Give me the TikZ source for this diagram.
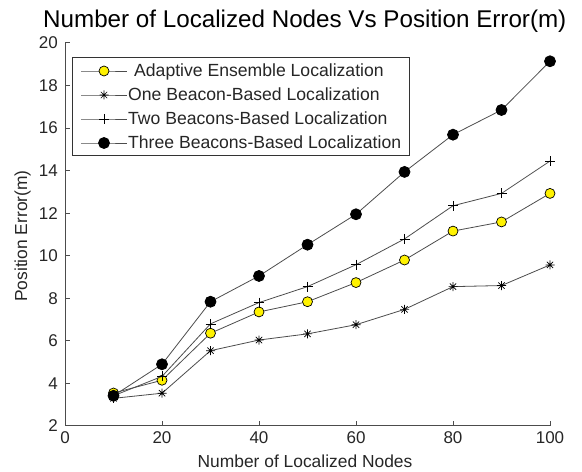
\documentclass[tikz,border=0pt]{standalone}
\usepackage{fontspec}
\setmainfont{Liberation Sans}
\usetikzlibrary{plotmarks}

% eight-armed star, like the asterisk marker of the original plot
\pgfdeclareplotmark{star8}{%
  \pgfpathmoveto{\pgfqpoint{-\pgfplotmarksize}{0pt}}\pgfpathlineto{\pgfqpoint{\pgfplotmarksize}{0pt}}%
  \pgfpathmoveto{\pgfqpoint{0pt}{-\pgfplotmarksize}}\pgfpathlineto{\pgfqpoint{0pt}{\pgfplotmarksize}}%
  \pgfpathmoveto{\pgfqpoint{-0.7\pgfplotmarksize}{-0.7\pgfplotmarksize}}\pgfpathlineto{\pgfqpoint{0.7\pgfplotmarksize}{0.7\pgfplotmarksize}}%
  \pgfpathmoveto{\pgfqpoint{-0.7\pgfplotmarksize}{0.7\pgfplotmarksize}}\pgfpathlineto{\pgfqpoint{0.7\pgfplotmarksize}{-0.7\pgfplotmarksize}}%
  \pgfusepathqstroke}

\begin{document}
\begin{tikzpicture}[x=1pt, y=1pt,
  axisline/.style={line width=1pt, draw=black!70},
  dataline/.style={line width=0.8pt, draw=black!70},
  ticklabel/.style={font=\fontsize{17}{17}\selectfont, inner sep=0pt, text=black!85},
  labeltext/.style={font=\fontsize{17.4}{17.4}\selectfont, inner sep=0pt, text=black!85},
  legtext/.style={font=\fontsize{17.6}{17.6}\selectfont, inner sep=0pt, text=black!85, anchor=base west},
  adaptmark/.style={mark=*, mark size=5pt, mark options={fill=yellow, draw=black, line width=0.7pt}},
  onemark/.style={mark=star8, mark size=4.5pt, mark options={draw=black, line width=0.7pt}},
  twomark/.style={mark=+, mark size=5pt, mark options={draw=black, line width=0.7pt}},
  threemark/.style={mark=*, mark size=5.5pt, mark options={fill=black, draw=black}}]
\useasboundingbox (0,0) rectangle (582,472);

% title and axis labels
\node[font=\fontsize{24.2}{28}\selectfont, inner sep=0pt, anchor=base west] (title) at (43,444) {Number of Localized Nodes Vs Position Error(m)};
\node[labeltext, anchor=base] (xlabel) at (305,4) {Number of Localized Nodes};
\node[labeltext, rotate=90, anchor=base] (ylabel) at (27,236) {Position Error(m)};

\begin{scope}[shift={(65,3.44)}, x=4.85pt, y=21.28pt]
% axes
\draw[axisline] (0,20) -- (0,2) -- (100,2);
\foreach \v in {2,4,...,20} {
  \draw[axisline] (0,\v) -- ++(5pt,0);
  \node[ticklabel, anchor=east] (yt\v) at ([xshift=-7pt]0,\v) {\v};
}
\foreach \u in {0,20,...,100} {
  \draw[axisline] (\u,2) -- ++(0,5pt);
  \node[ticklabel, anchor=north] (xt\u) at ([yshift=-5pt]\u,2) {\u};
}

% data
\draw[dataline, adaptmark] plot coordinates {(10,3.55) (20,4.15) (30,6.36) (40,7.36) (50,7.84) (60,8.74) (70,9.8) (80,11.16) (90,11.59) (100,12.93)};
\draw[dataline, onemark] plot coordinates {(10,3.3) (20,3.54) (30,5.54) (40,6.04) (50,6.33) (60,6.76) (70,7.48) (80,8.55) (90,8.6) (100,9.57)};
\draw[dataline, twomark] plot coordinates {(10,3.42) (20,4.33) (30,6.8) (40,7.8) (50,8.55) (60,9.58) (70,10.79) (80,12.35) (90,12.93) (100,14.45)};
\draw[dataline, threemark] plot coordinates {(10,3.42) (20,4.9) (30,7.84) (40,9.05) (50,10.52) (60,11.95) (70,13.94) (80,15.69) (90,16.85) (100,19.14)};
\end{scope}

% legend
\draw[line width=0.8pt, draw=black!80, fill=white] (72,415) rectangle (409,317);
\draw[dataline, adaptmark, mark indices={2}] plot coordinates {(81,401) (104,401) (127,401)};
\draw[dataline, onemark, mark indices={2}] plot coordinates {(81,377) (104,377) (127,377)};
\draw[dataline, twomark, mark indices={2}] plot coordinates {(81,353) (104,353) (127,353)};
\draw[dataline, threemark, mark indices={2}] plot coordinates {(81,329) (104,329) (127,329)};
\node[legtext] (leg1) at (134,395) {Adaptive Ensemble Localization};
\node[legtext] (leg2) at (128,371) {One Beacon-Based Localization};
\node[legtext] (leg3) at (128,347) {Two Beacons-Based Localization};
\node[legtext] (leg4) at (128,323) {Three Beacons-Based Localization};
\end{tikzpicture}
\end{document}
